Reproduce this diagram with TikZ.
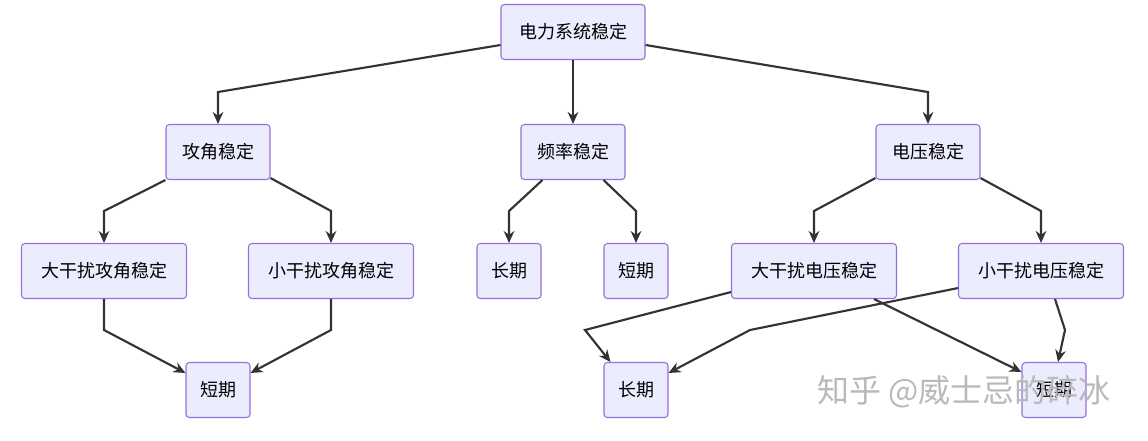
\documentclass[tikz,border=0pt]{standalone}
\usepackage{fontspec}
\setmainfont{Noto Sans CJK SC}
\usetikzlibrary{arrows.meta}
\definecolor{boxfill}{HTML}{ECECFF}
\definecolor{boxline}{HTML}{9370DB}
\definecolor{edge}{HTML}{333333}
\tikzset{
  box/.style={draw=boxline, fill=boxfill, rounded corners=2.5pt, line width=0.8pt,
    minimum height=55*0.75pt, inner xsep=6pt, font=\fontsize{13.5}{15}\selectfont},
  link/.style={draw=edge, line width=1.6pt, -{Stealth[length=9pt,width=8pt]}},
}
\begin{document}
\begin{tikzpicture}[x=0.75pt,y=-0.75pt]
	\useasboundingbox (0,0) rectangle (1148,440);
	% level 0 and 1
	\node [box, minimum width=144*0.75pt] (root) at (573,32) {电力系统稳定};
	\node [box, minimum width=104*0.75pt] (angle) at (218,152) {攻角稳定};
	\node [box, minimum width=104*0.75pt] (freq) at (573,152) {频率稳定};
	\node [box, minimum width=104*0.75pt] (volt) at (928,152) {电压稳定};
	% level 2
	\node [box, minimum width=165*0.75pt] (angleL) at (104,271) {大干扰攻角稳定};
	\node [box, minimum width=165*0.75pt] (angleS) at (331,271) {小干扰攻角稳定};
	\node [box, minimum width=64*0.75pt] (freqL) at (509,271) {长期};
	\node [box, minimum width=64*0.75pt] (freqS) at (636,271) {短期};
	\node [box, minimum width=165*0.75pt] (voltL) at (814,271) {大干扰电压稳定};
	\node [box, minimum width=165*0.75pt] (voltS) at (1041,271) {小干扰电压稳定};
	% level 3
	\node [box, minimum width=64*0.75pt] (angleT) at (218,390) {短期};
	\node [box, minimum width=64*0.75pt] (voltLT) at (636,390) {长期};
	\node [box, minimum width=64*0.75pt] (voltST) at (1054,390) {短期};

	\draw [link] ([yshift=-13*0.75pt]root.west) -- (218,92) -- (angle.north);
	\draw [link] (root.south) -- (freq.north);
	\draw [link] ([yshift=-13*0.75pt]root.east) -- (928,92) -- (volt.north);
	\draw [link] (angle.south west) -- (104,211) -- (angleL.north);
	\draw [link] ([yshift=2*0.75pt]angle.south east) -- (331,211) -- (angleS.north);
	\draw [link] ([xshift=22*0.75pt]freq.south west) -- (509,211) -- (freqL.north);
	\draw [link] ([xshift=-22*0.75pt]freq.south east) -- (636,211) -- (freqS.north);
	\draw [link] ([yshift=2*0.75pt]volt.south west) -- (814,211) -- (voltL.north);
	\draw [link] ([yshift=2*0.75pt]volt.south east) -- (1041,211) -- (voltS.north);
	\draw [link] (angleL.south) -- (104,330) -- ([yshift=-11*0.75pt]angleT.north west);
	\draw [link] (angleS.south) -- (331,330) -- ([yshift=-11*0.75pt]angleT.north east);
	\draw [link] ([yshift=7*0.75pt]voltL.south west) -- (585,330) -- ([xshift=7*0.75pt]voltLT.north west);
	\draw [link] ([xshift=-23*0.75pt]voltL.south east) -- ([yshift=-10*0.75pt]voltST.north west);
	\draw [link] ([yshift=11*0.75pt]voltS.south west) -- (750,330) -- ([yshift=-11*0.75pt]voltLT.north east);
	\draw [link] ([xshift=14*0.75pt]voltS.south) -- (1065,330) -- ([xshift=4*0.75pt]voltST.north);
	% watermark
	\node [text=gray!55, font=\fontsize{24}{26}\selectfont] (mark) at (964,392) {知乎 @威士忌的碎冰};
\end{tikzpicture}
\end{document}
